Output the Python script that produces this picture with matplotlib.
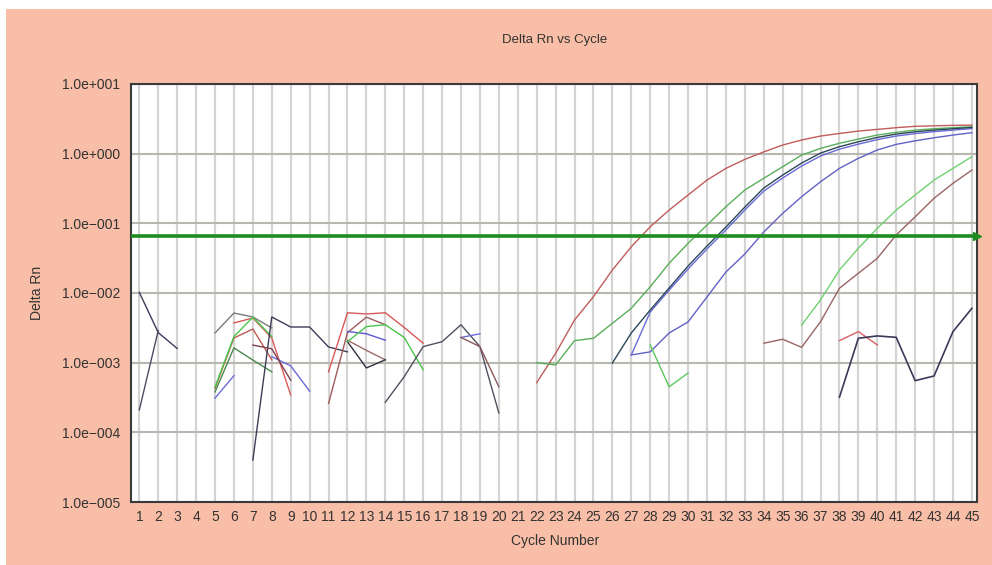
import numpy as np
import matplotlib
matplotlib.use("Agg")
import matplotlib.pyplot as plt
from matplotlib.patches import Rectangle

plt.rcParams['font.family'] = ['Liberation Sans', 'DejaVu Sans']

# axis text
title = "Delta Rn vs Cycle"
x_label = "Cycle Number"
y_label = "Delta Rn"
cycles = list(range(1, 46))
y_ticks = [1e-5, 1e-4, 1e-3, 1e-2, 1e-1, 1e0, 1e1]
y_tick_labels = ["1.0e\u2212005", "1.0e\u2212004", "1.0e\u2212003", "1.0e\u2212002",
                 "1.0e\u2212001", "1.0e+000", "1.0e+001"]
threshold = 0.065

# noise traces, early cycles
n01_x = [1, 2, 3]
n01_y = [0.0102, 0.0027, 0.0016]
n02_x = [1, 2]
n02_y = [0.00021, 0.0029]
n03_x = [5, 6, 7, 8]
n03_y = [0.00267, 0.00516, 0.00453, 0.00315]
n04_x = [6, 7, 8, 9]
n04_y = [0.00372, 0.00438, 0.00226, 0.000344]
n05_x = [5, 6, 7, 8]
n05_y = [0.00043, 0.00226, 0.00304, 0.0011]
n06_x = [5, 6, 7, 8]
n06_y = [0.00045, 0.00237, 0.0045, 0.00237]
n07_x = [5, 6, 7, 8]
n07_y = [0.00038, 0.00163, 0.00109, 0.00074]
n08_x = [5, 6]
n08_y = [0.00031, 0.00065]
n09_x = [8, 9, 10]
n09_y = [0.00122, 0.0009, 0.00039]
n10_x = [7, 8, 9, 10, 11, 12]
n10_y = [0.00004, 0.00453, 0.00325, 0.00325, 0.00168, 0.00143]
n11_x = [7, 8, 9]
n11_y = [0.00179, 0.00158, 0.00056]
n12_x = [11, 12, 13, 14, 15, 16]
n12_y = [0.00074, 0.0052, 0.005, 0.0052, 0.0032, 0.0019]
n13_x = [11, 12, 13, 14]
n13_y = [0.00026, 0.0027, 0.0045, 0.0035]
n14_x = [12, 13, 14]
n14_y = [0.0021, 0.0015, 0.0011]
n15_x = [12, 13, 14]
n15_y = [0.002, 0.00084, 0.0011]
n16_x = [12, 13, 14]
n16_y = [0.0028, 0.0026, 0.0021]
n17_x = [12, 13, 14, 15, 16]
n17_y = [0.002, 0.0033, 0.0035, 0.0023, 0.00079]
n18_x = [14, 15, 16, 17, 18, 19, 20]
n18_y = [0.00027, 0.00063, 0.0017, 0.002, 0.0035, 0.0017, 0.00019]
n19_x = [18, 19]
n19_y = [0.0023, 0.0026]
n20_x = [18, 19, 20]
n20_y = [0.0023, 0.0017, 0.00045]

# amplification curves
a_red_x = list(range(22, 46))
a_red_y = [0.000516, 0.00136, 0.0041, 0.00885, 0.0214, 0.0461, 0.0893, 0.155,
           0.255, 0.418, 0.615, 0.828, 1.06, 1.33, 1.57, 1.79, 1.95, 2.11,
           2.23, 2.36, 2.47, 2.51, 2.55, 2.57]
a_green_x = list(range(22, 46))
a_green_y = [0.001, 0.000927, 0.00207, 0.00224, 0.00367, 0.00603, 0.0123, 0.0267,
             0.0516, 0.0946, 0.173, 0.301, 0.443, 0.649, 0.955, 1.19, 1.41, 1.62,
             1.85, 2.02, 2.18, 2.28, 2.36, 2.43]
a_dark_x = list(range(26, 46))
a_dark_y = [0.00099, 0.00267, 0.0057, 0.0118, 0.0244, 0.0472, 0.0885, 0.171,
            0.321, 0.493, 0.733, 1.02, 1.26, 1.48, 1.71, 1.91, 2.06, 2.18,
            2.28, 2.38]
a_blue1_x = list(range(27, 46))
a_blue1_y = [0.00129, 0.00533, 0.011, 0.0221, 0.0428, 0.0802, 0.155, 0.29,
             0.447, 0.664, 0.925, 1.16, 1.37, 1.59, 1.79, 1.94, 2.07, 2.18, 2.29]
a_blue2_x = list(range(27, 46))
a_blue2_y = [0.00129, 0.00143, 0.00267, 0.00384, 0.00877, 0.02, 0.0363, 0.075,
             0.139, 0.241, 0.395, 0.615, 0.857, 1.13, 1.36, 1.53, 1.69, 1.85, 2.0]
g_short_x = [28, 29, 30]
g_short_y = [0.0018, 0.00045, 0.00071]
a_lgreen_x = list(range(36, 46))
a_lgreen_y = [0.00347, 0.00794, 0.0214, 0.0438, 0.0847, 0.155, 0.255, 0.418,
              0.615, 0.904]
a_brown_x = list(range(34, 46))
a_brown_y = [0.0019, 0.00217, 0.00166, 0.00387, 0.0117, 0.0192, 0.0315, 0.068,
             0.124, 0.229, 0.375, 0.582]
r_short_x = [38, 39, 40]
r_short_y = [0.00207, 0.00279, 0.0018]
n_late_x = [38, 39, 40, 41, 42, 43, 44, 45]
n_late_y = [0.000319, 0.00224, 0.00242, 0.00231, 0.000552, 0.000644, 0.00279, 0.00603]

fig = plt.figure(figsize=(9.92, 5.65), dpi=100, facecolor="white")
fig.patches.append(Rectangle((6 / 992, 0), 1, 1 - 9 / 565, transform=fig.transFigure,
                             facecolor="#f9bea7", edgecolor="none", zorder=-10))
ax = fig.add_axes([131 / 992, 63 / 565, 846 / 992, 418 / 565])
ax.set_facecolor("white")

lw = 1.0
ax.plot(n01_x, n01_y, color="#3a3a5c", lw=lw)
ax.plot(n02_x, n02_y, color="#4c4c68", lw=lw)
ax.plot(n03_x, n03_y, color="#7a7a7a", lw=lw)
ax.plot(n04_x, n04_y, color="#d85858", lw=lw)
ax.plot(n05_x, n05_y, color="#c05a50", lw=lw)
ax.plot(n06_x, n06_y, color="#4cc84c", lw=lw)
ax.plot(n07_x, n07_y, color="#4a8a4a", lw=lw)
ax.plot(n08_x, n08_y, color="#6a6ad8", lw=lw)
ax.plot(n09_x, n09_y, color="#6a6ad8", lw=lw)
ax.plot(n10_x, n10_y, color="#3c3c58", lw=lw)
ax.plot(n11_x, n11_y, color="#804050", lw=lw)
ax.plot(n12_x, n12_y, color="#d85858", lw=lw)
ax.plot(n13_x, n13_y, color="#a05a5a", lw=lw)
ax.plot(n14_x, n14_y, color="#a06a6a", lw=lw)
ax.plot(n15_x, n15_y, color="#303040", lw=lw)
ax.plot(n16_x, n16_y, color="#5a5ad0", lw=lw)
ax.plot(n17_x, n17_y, color="#4cc44c", lw=lw)
ax.plot(n18_x, n18_y, color="#50505e", lw=lw)
ax.plot(n19_x, n19_y, color="#6a6ad8", lw=lw)
ax.plot(n20_x, n20_y, color="#8a5a5a", lw=lw)

ax.plot(a_red_x, a_red_y, color="#c05c5c", lw=lw)
ax.plot(a_green_x, a_green_y, color="#5aae5a", lw=lw)
ax.plot(a_blue2_x, a_blue2_y, color="#6262c4", lw=lw)
ax.plot(a_blue1_x, a_blue1_y, color="#6a6ad8", lw=lw)
ax.plot(a_dark_x, a_dark_y, color="#2c4858", lw=lw)
ax.plot(g_short_x, g_short_y, color="#5cc85c", lw=lw)
ax.plot(a_lgreen_x, a_lgreen_y, color="#70d070", lw=lw)
ax.plot(a_brown_x, a_brown_y, color="#9a6464", lw=lw)
ax.plot(r_short_x, r_short_y, color="#d86060", lw=lw)
ax.plot(n_late_x, n_late_y, color="#3a3a58", lw=1.2)

# threshold line with arrow head
ax.axhline(threshold, color="#1f8c1f", lw=2.6, zorder=5)
ax.plot([45.27], [threshold], marker=">", color="#1f8c1f", ms=6, clip_on=False, zorder=6)

ax.set_yscale("log")
ax.set_ylim(1e-5, 1e1)
ax.set_xlim(0.56, 45.27)
ax.set_yticks(y_ticks)
ax.set_yticklabels(y_tick_labels)
ax.yaxis.set_minor_locator(matplotlib.ticker.NullLocator())
ax.set_xticks(cycles)
ax.set_xticklabels([str(c) for c in cycles])
ax.tick_params(axis="both", length=0, labelsize=10, colors="#333333")
ax.tick_params(axis="x", pad=6)
ax.tick_params(axis="y", pad=8)

ax.grid(axis="x", color="#d4d4d4", lw=1.6)
ax.grid(axis="y", color="#b8b8b0", lw=1.5)
ax.set_axisbelow(True)
for side in ["left", "bottom", "right", "top"]:
    ax.spines[side].set_color("#3a3a3a")
    ax.spines[side].set_linewidth(1.5)

fig.text(555 / 992, 1 - 40 / 565, title, ha="center", va="center", fontsize=9.5, color="#333333")
fig.text(555 / 992, 1 - 541 / 565, x_label, ha="center", va="center", fontsize=10, color="#333333")
fig.text(37 / 992, 1 - 293 / 565, y_label, ha="center", va="center", rotation=90,
         fontsize=10, color="#333333")

fig.savefig("out.png", dpi=100, facecolor=fig.get_facecolor())
